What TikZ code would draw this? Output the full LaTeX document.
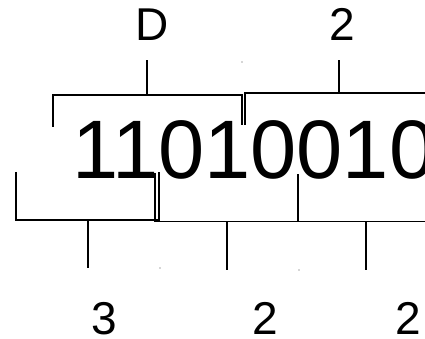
\documentclass[tikz,border=0pt]{standalone}
\usepackage{fontspec}
\setmainfont{Liberation Sans}
\begin{document}
\begin{tikzpicture}[x=1pt,y=1pt,
  br/.style={line width=1.5pt, line cap=butt},
  big/.style={inner sep=0pt, font=\fontsize{83}{83}\selectfont},
  lab/.style={inner sep=0pt, font=\fontsize{46}{46}\selectfont},
  tiny/.style={fill=black!70, circle, inner sep=0pt, minimum size=1.4pt}]
\useasboundingbox (0,0) rectangle (425,339);
\clip (0,0) rectangle (425,339);
% big number
\node[big, anchor=base west] (num) at (72,160) {11010010};
% top brackets
\coordinate (tl1) at (53,212); \coordinate (tl2) at (53,244);
\coordinate (tl3) at (242,244); \coordinate (tl4) at (242,214);
\draw[br] (tl1) -- (tl2) -- (tl3) -- (tl4);
\coordinate (ts1a) at (147,244); \coordinate (ts1b) at (147,279);
\draw[br] (ts1a) -- (ts1b);
\coordinate (tr1) at (245,214); \coordinate (tr2) at (245,246);
\coordinate (tr3) at (440,246);
\draw[br] (tr1) -- (tr2) -- (tr3);
\coordinate (ts2a) at (339,246); \coordinate (ts2b) at (339,279);
\draw[br] (ts2a) -- (ts2b);
\node[tiny] (d1) at (242,277) {};
% bottom brackets
\coordinate (b1a) at (16,167); \coordinate (b1b) at (16,119);
\coordinate (b1c) at (159,119); \coordinate (b1d) at (159,167);
\draw[br] (b1a) -- (b1b) -- (b1c) -- (b1d);
\coordinate (bs1a) at (88,119); \coordinate (bs1b) at (88,71);
\draw[br] (bs1a) -- (bs1b);
\coordinate (b2a) at (155,166); \coordinate (b2b) at (155,117.5);
\coordinate (b2c) at (298,117.5); \coordinate (b2d) at (298,165);
\draw[br] (b2a) -- (b2b) -- (b2c) -- (b2d);
\coordinate (b3a) at (298,117.5); \coordinate (b3b) at (440,117.5);
\draw[br] (b3a) -- (b3b);
\coordinate (bs2a) at (227,117.5); \coordinate (bs2b) at (227,69);
\draw[br] (bs2a) -- (bs2b);
\coordinate (bs3a) at (366,117.5); \coordinate (bs3b) at (366,69);
\draw[br] (bs3a) -- (bs3b);
\node[tiny] (d2) at (160,71) {};
\node[tiny] (d3) at (299,69) {};
% labels
\node[lab, anchor=base] (lD) at (152.5,298) {D};
\node[lab, anchor=base] (l2t) at (342,298) {2};
\node[lab, anchor=base] (l3) at (104.5,4.5) {3};
\node[lab, anchor=base] (l2a) at (265.5,4.5) {2};
\node[lab, anchor=base] (l2b) at (408.5,4.5) {2};
\end{tikzpicture}
\end{document}
